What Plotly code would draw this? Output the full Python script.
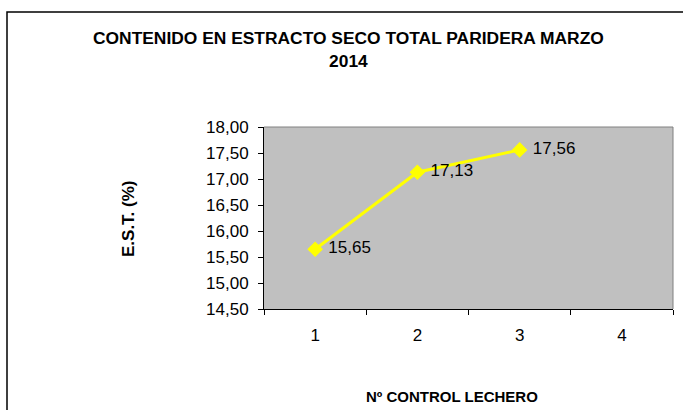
import plotly.graph_objects as go

categories = ["1", "2", "3", "4"]
est_values = [15.65, 17.13, 17.56]
value_labels = ["15,65", "17,13", "17,56"]
y_ticks = [14.5, 15.0, 15.5, 16.0, 16.5, 17.0, 17.5, 18.0]

W, H = 683, 410
L, R, T, B = 264, 673, 127, 309
pw, ph = R - L, B - T

def px(x):
    return (x - L) / pw

def py(y):
    return (B - y) / ph

FONT = "Liberation Sans, Arial"

fig = go.Figure()
fig.add_trace(go.Scatter(
    x=categories[:len(est_values)], y=est_values,
    mode="lines+markers+text",
    line=dict(color="#FFFF00", width=3),
    marker=dict(symbol="diamond", size=12, color="#FFFF00"),
    text=[" " + t for t in value_labels], textposition="middle right",
    textfont=dict(family=FONT, size=17, color="#000000"),
    cliponaxis=False, showlegend=False,
))

fig.update_layout(
    width=W, height=H,
    margin=dict(l=L, r=W - R, t=T, b=H - B, pad=0),
    paper_bgcolor="#FFFFFF", plot_bgcolor="#C0C0C0",
    separators=",.",
    font=dict(family=FONT, size=17, color="#000000"),
    xaxis=dict(
        type="category", categoryorder="array", categoryarray=categories,
        tickvals=categories, ticktext=categories,
        range=[-0.5, 3.5], tickson="boundaries",
        ticks="outside", ticklen=5, tickcolor="#000000", tickwidth=1,
        showline=True, linecolor="#000000", linewidth=1,
        showgrid=False, zeroline=False, mirror=False,
        ticklabelstandoff=11,
        tickfont=dict(size=17),
    ),
    yaxis=dict(
        range=[14.5, 18.0], tickvals=y_ticks, tickformat=".2f",
        ticks="outside", ticklen=5, tickcolor="#000000", tickwidth=1,
        showline=True, linecolor="#000000", linewidth=1,
        showgrid=False, zeroline=False,
        ticklabelstandoff=6,
        tickfont=dict(size=17),
    ),
    shapes=[
        dict(type="rect", xref="paper", yref="paper",
             x0=px(7), x1=px(700), y0=py(430), y1=py(12),
             line=dict(color="#000000", width=1.5), layer="below"),
        dict(type="line", xref="paper", yref="paper",
             x0=0, x1=1, y0=1, y1=1, line=dict(color="#808080", width=1)),
        dict(type="line", xref="paper", yref="paper",
             x0=1, x1=1, y0=0, y1=1, line=dict(color="#808080", width=1)),
    ],
    annotations=[
        dict(text="<b>CONTENIDO EN ESTRACTO SECO TOTAL PARIDERA MARZO<br>2014</b>",
             xref="paper", yref="paper", x=px(348), y=py(49),
             xanchor="center", yanchor="middle", showarrow=False,
             font=dict(size=17.4)),
        dict(text="<b>Nº CONTROL LECHERO</b>",
             xref="paper", yref="paper", x=px(452), y=py(396),
             xanchor="center", yanchor="middle", showarrow=False,
             font=dict(size=15)),
        dict(text="<b>E.S.T. (%)</b>", textangle=-90,
             xref="paper", yref="paper", x=px(128), y=py(219),
             xanchor="center", yanchor="middle", showarrow=False,
             font=dict(size=17)),
    ],
)

fig.write_html("out.html", config={"displayModeBar": False},
               post_script="document.body.style.margin='0';")
